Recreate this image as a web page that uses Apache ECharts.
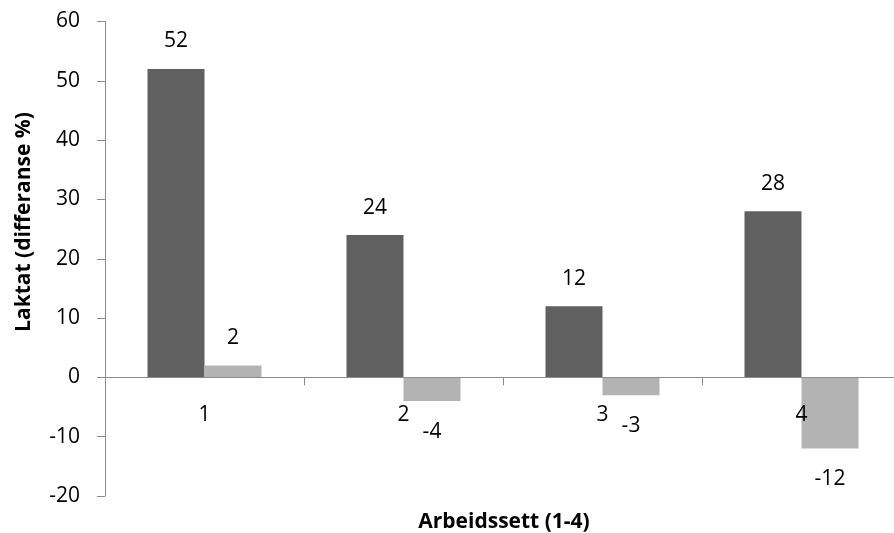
<!DOCTYPE html>
<html>
<head>
<meta charset="utf-8">
<script src="https://cdn.jsdelivr.net/npm/echarts@6/dist/echarts.min.js"></script>
<style>
  html, body { margin: 0; padding: 0; background: #ffffff; overflow: hidden; }
  /* the plot runs slightly past the right edge of the window */
  #chart { width: 902px; height: 533px; }
</style>
</head>
<body>
<div id="chart"></div>
<script>
// Lactate difference (%) per working set
const categories = ['1', '2', '3', '4'];
const seriesA = [52, 24, 12, 28];
const seriesB = [2, -4, -3, -12];
const yTicks = { min: -20, max: 60, interval: 10 };

const FONT = '"Open Sans", "Noto Sans", sans-serif';
const LABEL_SIZE = 21;

// Plot box
const GRID = { left: 105, top: 21.5, right: 1, bottom: 37 };
const plotHeight = 533 - GRID.top - GRID.bottom;

// The category axis sits on the zero line: shift it up from the plot bottom
const zeroOffset = plotHeight * (0 - yTicks.min) / (yTicks.max - yTicks.min);

// Values above zero get their label on top, below zero underneath
function withLabels(values) {
  return values.map(v => ({
    value: v,
    label: {
      show: true,
      position: v >= 0 ? 'top' : 'bottom',
      distance: v >= 0 ? 17 : 20,
      color: '#000',
      fontFamily: FONT,
      fontSize: LABEL_SIZE
    }
  }));
}

const chart = echarts.init(document.getElementById('chart'), null, { renderer: 'canvas' });

chart.setOption({
  animation: false,
  backgroundColor: '#ffffff',
  grid: { left: GRID.left, top: GRID.top, right: GRID.right, bottom: GRID.bottom, containLabel: false },
  xAxis: {
    type: 'category',
    data: categories,
    position: 'bottom',
    offset: -zeroOffset,
    z: 5,
    axisLine: { onZero: false, lineStyle: { color: '#8c8c8c', width: 1 } },
    axisTick: { show: true, length: 8, lineStyle: { color: '#8c8c8c' } },
    axisLabel: { color: '#000', fontFamily: FONT, fontSize: LABEL_SIZE, margin: 27 },
    splitLine: { show: false }
  },
  yAxis: {
    type: 'value',
    min: yTicks.min,
    max: yTicks.max,
    interval: yTicks.interval,
    axisLine: { show: true, lineStyle: { color: '#8c8c8c', width: 1 } },
    axisTick: { show: true, length: 8, lineStyle: { color: '#8c8c8c' } },
    axisLabel: { color: '#000', fontFamily: FONT, fontSize: LABEL_SIZE, margin: 25 },
    splitLine: { show: false }
  },
  series: [
    {
      type: 'bar',
      data: withLabels(seriesA),
      barWidth: 57,
      barGap: '0%',
      itemStyle: { color: '#606060' }
    },
    {
      type: 'bar',
      data: withLabels(seriesB),
      barWidth: 57,
      barGap: '0%',
      itemStyle: { color: '#b3b3b3' }
    }
  ],
  graphic: [
    {
      type: 'text',
      x: 504,
      y: 522,
      style: {
        text: 'Arbeidssett (1-4)',
        fill: '#000',
        font: 'bold 21px ' + FONT,
        textAlign: 'center',
        textVerticalAlign: 'middle'
      }
    },
    {
      type: 'text',
      rotation: Math.PI / 2,
      x: 24,
      y: 222,
      style: {
        text: 'Laktat (differanse %)',
        fill: '#000',
        font: 'bold 21px ' + FONT,
        textAlign: 'center',
        textVerticalAlign: 'middle'
      }
    }
  ]
});
</script>
</body>
</html>
